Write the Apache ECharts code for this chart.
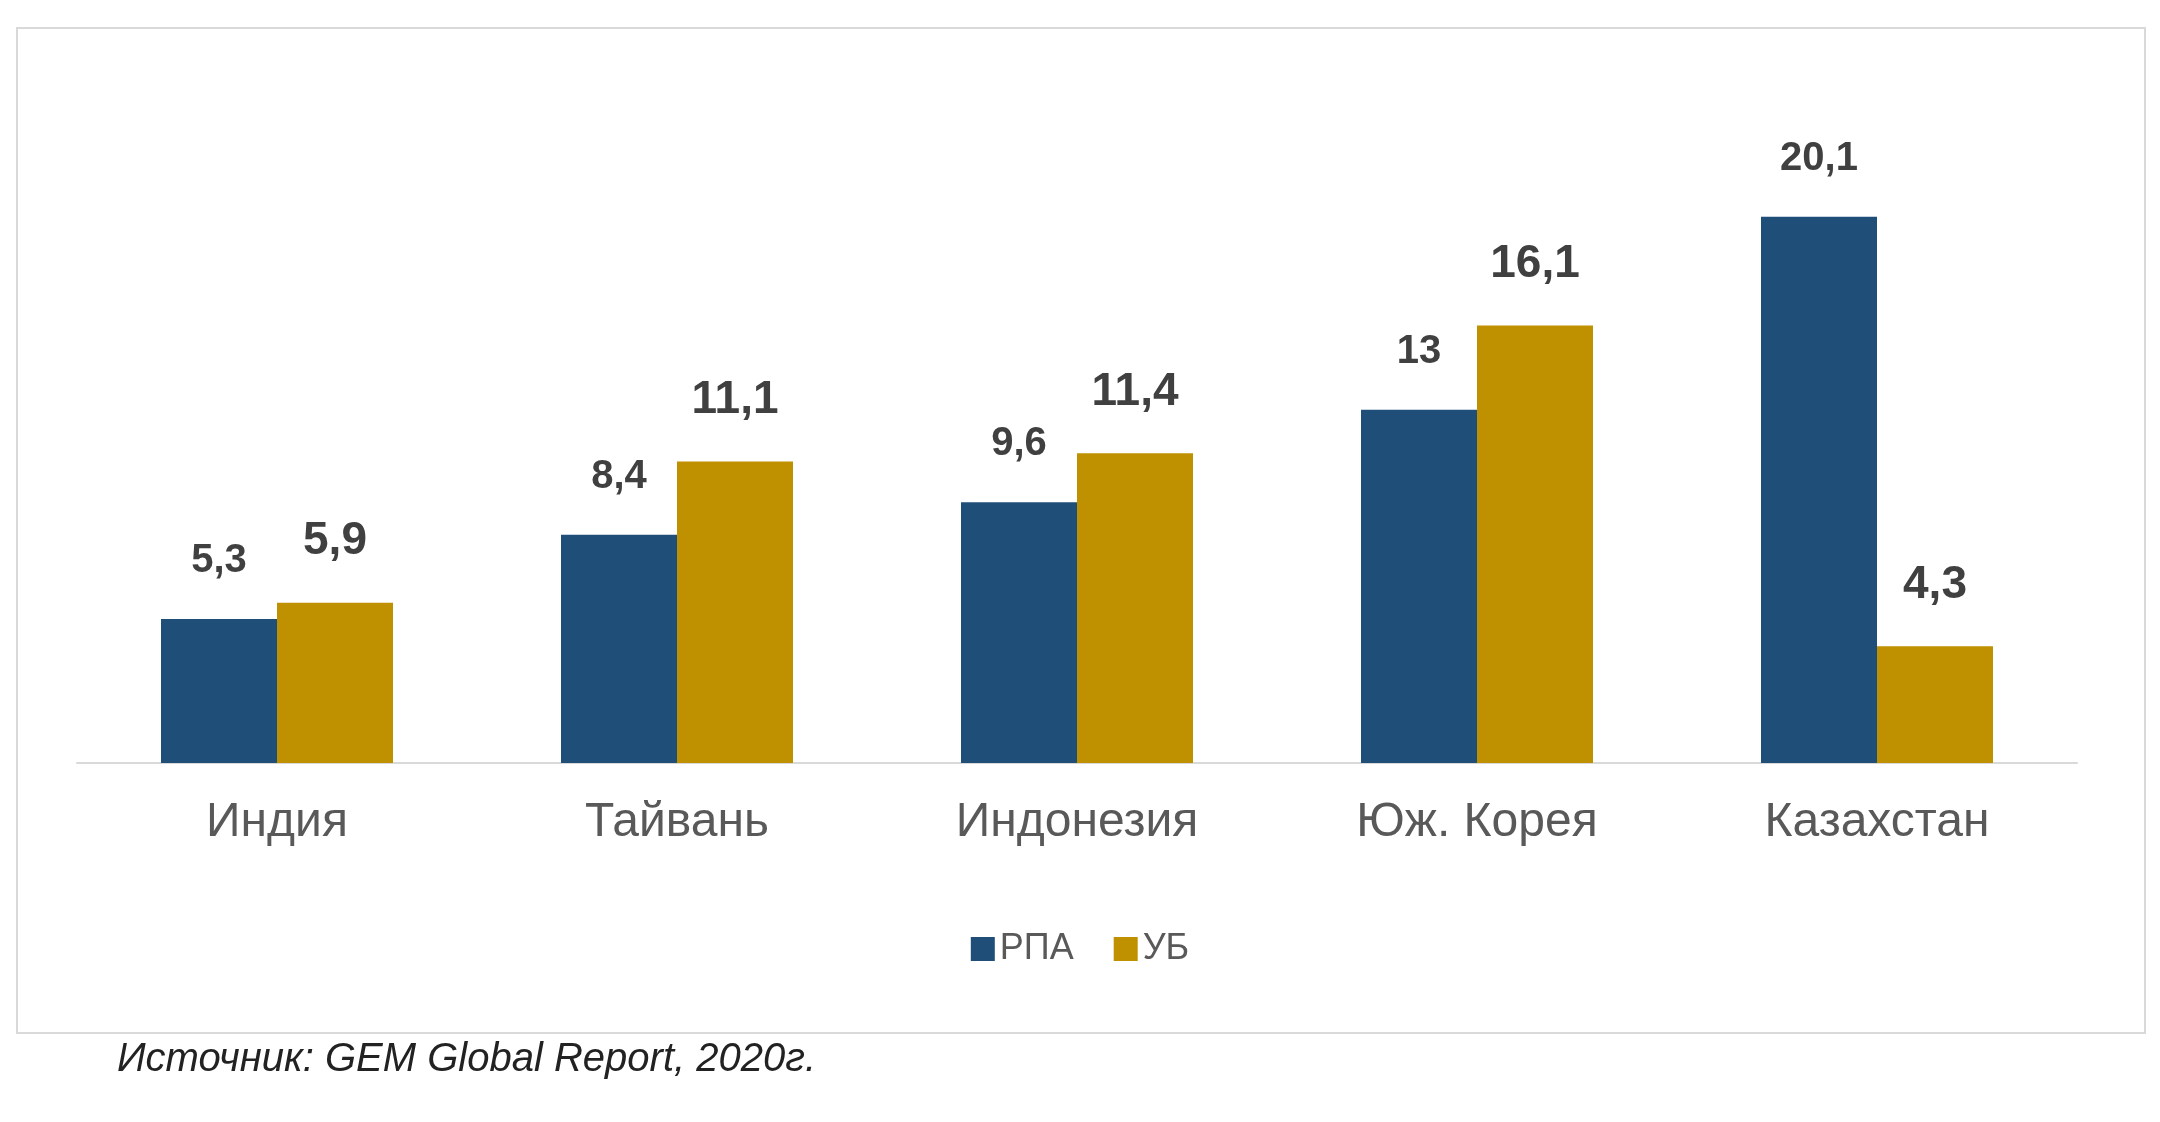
<!DOCTYPE html>
<html>
<head>
<meta charset="utf-8">
<script src="https://cdn.jsdelivr.net/npm/echarts@6/dist/echarts.min.js"></script>
<style>html,body{margin:0;padding:0;background:#fff;}#chart{width:2160px;height:1122px;}</style>
</head>
<body>
<div id="chart"></div>
<script>
var categories = ['Индия', 'Тайвань', 'Индонезия', 'Юж. Корея', 'Казахстан'];
var rpaValues = [5.3, 8.4, 9.6, 13, 20.1];
var ubValues = [5.9, 11.1, 11.4, 16.1, 4.3];

var chart = echarts.init(document.getElementById('chart'));

function fmt(p) { return String(p.value).replace('.', ','); }

var option = {
    animation: false,
    textStyle: { fontFamily: 'Liberation Sans, Arial, sans-serif' },
    graphic: [
        {
            type: 'rect',
            shape: { x: 17, y: 28, width: 2128, height: 1005 },
            style: { fill: 'none', stroke: '#d9d9d9', lineWidth: 2 }
        },
        {
            type: 'text',
            left: 117, top: 1040,
            style: { text: 'Источник: GEM Global Report, 2020г.', font: 'italic 40px Liberation Sans, Arial', fill: '#222' }
        }
    ],
    legend: {
        data: ['РПА', 'УБ'],
        left: 'center', top: 926,
        itemWidth: 24, itemHeight: 24, itemGap: 40,
        icon: 'rect',
        textStyle: { fontSize: 36, color: '#595959' }
    },
    grid: { left: 77, right: 83, top: 100, bottom: 359 },
    xAxis: {
        type: 'category',
        data: categories,
        axisTick: { show: false },
        axisLine: { lineStyle: { color: '#d9d9d9', width: 2 } },
        axisLabel: { fontSize: 48, color: '#595959', margin: 36 }
    },
    yAxis: { type: 'value', min: 0, max: 24.4, show: false, splitLine: { show: false } },
    series: [
        {
            name: 'РПА', type: 'bar', data: rpaValues,
            barWidth: '29%', barGap: '0%',
            itemStyle: { color: '#1F4E79' },
            label: { show: true, position: 'top', distance: 38, formatter: fmt, fontSize: 40, fontWeight: 'bold', color: '#404040' }
        },
        {
            name: 'УБ', type: 'bar', data: ubValues,
            barWidth: '29%',
            itemStyle: { color: '#BF9000' },
            label: { show: true, position: 'top', distance: 38, formatter: fmt, fontSize: 46, fontWeight: 'bold', color: '#404040' }
        }
    ]
};
chart.setOption(option);
</script>
</body>
</html>
